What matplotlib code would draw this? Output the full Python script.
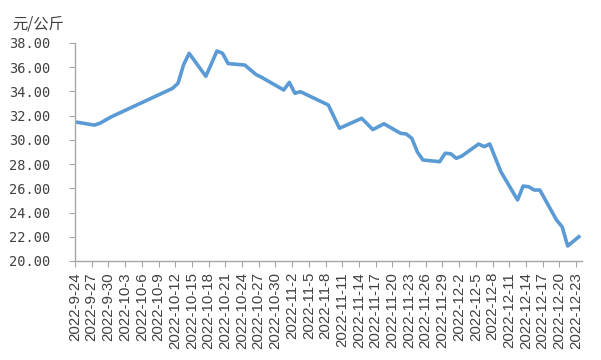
import matplotlib.pyplot as plt
import numpy as np
import pandas as pd

# price series (vertices, yuan per kg)
dates = ['2022-9-24', '2022-9-27', '2022-9-28', '2022-9-30', '2022-10-11',
         '2022-10-12', '2022-10-13', '2022-10-14', '2022-10-17', '2022-10-19',
         '2022-10-20', '2022-10-21', '2022-10-24', '2022-10-26', '2022-10-27',
         '2022-10-31', '2022-11-1', '2022-11-2', '2022-11-3', '2022-11-8',
         '2022-11-10', '2022-11-14', '2022-11-16', '2022-11-18', '2022-11-21',
         '2022-11-22', '2022-11-23', '2022-11-24', '2022-11-25', '2022-11-28',
         '2022-11-29', '2022-11-30', '2022-12-1', '2022-12-2', '2022-12-5',
         '2022-12-6', '2022-12-7', '2022-12-9', '2022-12-12', '2022-12-13',
         '2022-12-14', '2022-12-15', '2022-12-16', '2022-12-19', '2022-12-20',
         '2022-12-21', '2022-12-23']
prices = [31.45, 31.22, 31.38, 31.90, 34.25,
          34.67, 36.20, 37.15, 35.25, 37.34,
          37.15, 36.30, 36.18, 35.40, 35.17,
          34.12, 34.75, 33.85, 33.98, 32.88,
          30.96, 31.78, 30.85, 31.33, 30.54,
          30.49, 30.13, 29.00, 28.34, 28.20,
          28.90, 28.85, 28.48, 28.67, 29.66,
          29.44, 29.66, 27.37, 25.04, 26.19,
          26.13, 25.86, 25.86, 23.38, 22.83,
          21.24, 22.00]

tick_labels = ['2022-9-24', '2022-9-27', '2022-9-30', '2022-10-3', '2022-10-6',
               '2022-10-9', '2022-10-12', '2022-10-15', '2022-10-18', '2022-10-21',
               '2022-10-24', '2022-10-27', '2022-10-30', '2022-11-2', '2022-11-5',
               '2022-11-8', '2022-11-11', '2022-11-14', '2022-11-17', '2022-11-20',
               '2022-11-23', '2022-11-26', '2022-11-29', '2022-12-2', '2022-12-5',
               '2022-12-8', '2022-12-11', '2022-12-14', '2022-12-17', '2022-12-20',
               '2022-12-23']
y_ticks = [20, 22, 24, 26, 28, 30, 32, 34, 36, 38]

start = pd.Timestamp('2022-09-24')
x = (pd.to_datetime(dates) - start).days.values
xt = (pd.to_datetime(tick_labels) - start).days.values - 0.5

fig = plt.figure(figsize=(6.01, 3.6), dpi=100)
ax = fig.add_axes([75/601, 1-261/360, 506.6/601, 218/360])

ax.plot(x, prices, color='#5B9BD5', lw=2.6, solid_joinstyle='round')

ax.set_xlim(-0.5, 90.5)
ax.set_ylim(20, 38)
ax.set_yticks(y_ticks)
ax.set_yticklabels(['%.2f' % v for v in y_ticks], family='DejaVu Sans Mono',
                   fontsize=9.8, color='#404040')
ax.set_xticks(xt)
ax.set_xticklabels(tick_labels, rotation=90, family='Liberation Sans',
                   fontsize=10.8, color='#404040')

for s in ['top', 'right']:
    ax.spines[s].set_visible(False)
for s in ['left', 'bottom']:
    ax.spines[s].set_color('#A6A6A6')
    ax.spines[s].set_linewidth(1)
ax.tick_params(axis='y', length=4, color='#A6A6A6', pad=13.5)
ax.tick_params(axis='x', length=4, color='#A6A6A6', pad=4)

fig.text(12/601, 1-24/360, '元/公斤', family=['Noto Sans CJK SC', 'DejaVu Sans'],
         fontsize=11, color='#404040', va='center', ha='left')

fig.savefig('out.png', dpi=100)
